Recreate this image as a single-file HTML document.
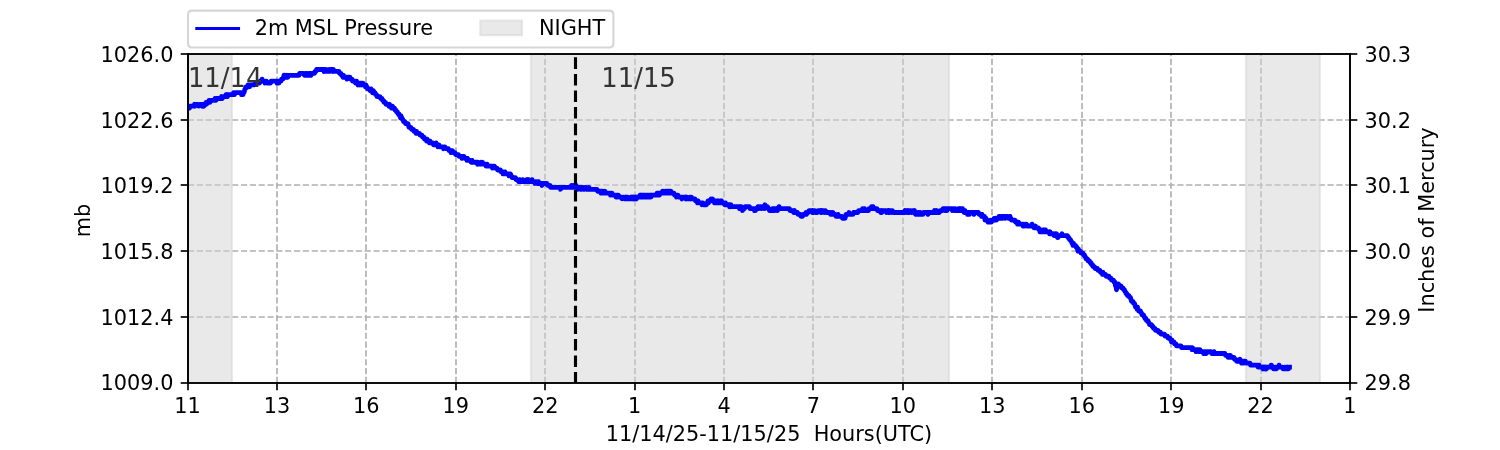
<!DOCTYPE html>
<html><head><meta charset="utf-8"><title>2m MSL Pressure</title>
<style>html,body{margin:0;padding:0;background:#fff;}body{width:1500px;height:450px;overflow:hidden;}svg{display:block;}</style>
</head><body>
<svg width="1500" height="450" viewBox="0 0 720 216" version="1.1">
<defs>
<style type="text/css">*{stroke-linejoin: round; stroke-linecap: butt}</style>
</defs>
<g id="figure_1">
<g id="patch_1">
<path d="M 0 216 L 720 216 L 720 0 L 0 0 z
" style="fill: #ffffff"/>
</g>
<g id="axes_1">
<g id="patch_2">
<path d="M 90.24 183.84 L 648 183.84 L 648 25.92 L 90.24 25.92 z
" style="fill: #ffffff"/>
</g>
<g id="matplotlib.axis_1">
<g id="xtick_1">
<g id="line2d_1">
<path d="M 90.24 183.84 L 90.24 25.92 " clip-path="url(#p7437178275)" style="fill: none; stroke-dasharray: 2.96,1.28; stroke-dashoffset: 0; stroke: #b0b0b0; stroke-width: 0.8"/>
</g>
<g id="line2d_2">
<g>
<path d="M 0 0 L 0 3.5" transform="translate(90.24 183.84)" style="stroke: #000000; stroke-width: 0.8"/>
</g>
</g>
<g id="text_1">
<text style="font-size: 10px; font-family: 'DejaVu Sans', 'Bitstream Vera Sans', 'Computer Modern Sans Serif', 'Lucida Grande', 'Verdana', 'Geneva', 'Lucid', 'Arial', 'Helvetica', 'Avant Garde', sans-serif; text-anchor: middle" x="90.24" y="198.438438" transform="translate(-0.240 0.000)">11</text>
</g>
</g>
<g id="xtick_2">
<g id="line2d_3">
<path d="M 132.96 183.84 L 132.96 25.92 " clip-path="url(#p7437178275)" style="fill: none; stroke-dasharray: 2.96,1.28; stroke-dashoffset: 0; stroke: #b0b0b0; stroke-width: 0.8"/>
</g>
<g id="line2d_4">
<g>
<path d="M 0 0 L 0 3.5" transform="translate(132.96 183.84)" style="stroke: #000000; stroke-width: 0.8"/>
</g>
</g>
<g id="text_2">
<text style="font-size: 10px; font-family: 'DejaVu Sans', 'Bitstream Vera Sans', 'Computer Modern Sans Serif', 'Lucida Grande', 'Verdana', 'Geneva', 'Lucid', 'Arial', 'Helvetica', 'Avant Garde', sans-serif; text-anchor: middle" x="132.96" y="198.438438" transform="translate(-0.037 0.000)">13</text>
</g>
</g>
<g id="xtick_3">
<g id="line2d_5">
<path d="M 175.68 183.84 L 175.68 25.92 " clip-path="url(#p7437178275)" style="fill: none; stroke-dasharray: 2.96,1.28; stroke-dashoffset: 0; stroke: #b0b0b0; stroke-width: 0.8"/>
</g>
<g id="line2d_6">
<g>
<path d="M 0 0 L 0 3.5" transform="translate(175.68 183.84)" style="stroke: #000000; stroke-width: 0.8"/>
</g>
</g>
<g id="text_3">
<text style="font-size: 10px; font-family: 'DejaVu Sans', 'Bitstream Vera Sans', 'Computer Modern Sans Serif', 'Lucida Grande', 'Verdana', 'Geneva', 'Lucid', 'Arial', 'Helvetica', 'Avant Garde', sans-serif; text-anchor: middle" x="175.68" y="198.438438" transform="translate(0.166 0.000)">16</text>
</g>
</g>
<g id="xtick_4">
<g id="line2d_7">
<path d="M 218.88 183.84 L 218.88 25.92 " clip-path="url(#p7437178275)" style="fill: none; stroke-dasharray: 2.96,1.28; stroke-dashoffset: 0; stroke: #b0b0b0; stroke-width: 0.8"/>
</g>
<g id="line2d_8">
<g>
<path d="M 0 0 L 0 3.5" transform="translate(218.88 183.84)" style="stroke: #000000; stroke-width: 0.8"/>
</g>
</g>
<g id="text_4">
<text style="font-size: 10px; font-family: 'DejaVu Sans', 'Bitstream Vera Sans', 'Computer Modern Sans Serif', 'Lucida Grande', 'Verdana', 'Geneva', 'Lucid', 'Arial', 'Helvetica', 'Avant Garde', sans-serif; text-anchor: middle" x="218.88" y="198.438438" transform="translate(-0.111 0.000)">19</text>
</g>
</g>
<g id="xtick_5">
<g id="line2d_9">
<path d="M 261.6 183.84 L 261.6 25.92 " clip-path="url(#p7437178275)" style="fill: none; stroke-dasharray: 2.96,1.28; stroke-dashoffset: 0; stroke: #b0b0b0; stroke-width: 0.8"/>
</g>
<g id="line2d_10">
<g>
<path d="M 0 0 L 0 3.5" transform="translate(261.6 183.84)" style="stroke: #000000; stroke-width: 0.8"/>
</g>
</g>
<g id="text_5">
<text style="font-size: 10px; font-family: 'DejaVu Sans', 'Bitstream Vera Sans', 'Computer Modern Sans Serif', 'Lucida Grande', 'Verdana', 'Geneva', 'Lucid', 'Arial', 'Helvetica', 'Avant Garde', sans-serif; text-anchor: middle" x="261.6" y="198.438438" transform="translate(0.092 0.000)">22</text>
</g>
</g>
<g id="xtick_6">
<g id="line2d_11">
<path d="M 304.8 183.84 L 304.8 25.92 " clip-path="url(#p7437178275)" style="fill: none; stroke-dasharray: 2.96,1.28; stroke-dashoffset: 0; stroke: #b0b0b0; stroke-width: 0.8"/>
</g>
<g id="line2d_12">
<g>
<path d="M 0 0 L 0 3.5" transform="translate(304.8 183.84)" style="stroke: #000000; stroke-width: 0.8"/>
</g>
</g>
<g id="text_6">
<text style="font-size: 10px; font-family: 'DejaVu Sans', 'Bitstream Vera Sans', 'Computer Modern Sans Serif', 'Lucida Grande', 'Verdana', 'Geneva', 'Lucid', 'Arial', 'Helvetica', 'Avant Garde', sans-serif; text-anchor: middle" x="304.8" y="198.438438" transform="translate(-0.185 0.000)">1</text>
</g>
</g>
<g id="xtick_7">
<g id="line2d_13">
<path d="M 347.52 183.84 L 347.52 25.92 " clip-path="url(#p7437178275)" style="fill: none; stroke-dasharray: 2.96,1.28; stroke-dashoffset: 0; stroke: #b0b0b0; stroke-width: 0.8"/>
</g>
<g id="line2d_14">
<g>
<path d="M 0 0 L 0 3.5" transform="translate(347.52 183.84)" style="stroke: #000000; stroke-width: 0.8"/>
</g>
</g>
<g id="text_7">
<text style="font-size: 10px; font-family: 'DejaVu Sans', 'Bitstream Vera Sans', 'Computer Modern Sans Serif', 'Lucida Grande', 'Verdana', 'Geneva', 'Lucid', 'Arial', 'Helvetica', 'Avant Garde', sans-serif; text-anchor: middle" x="347.52" y="198.438438" transform="translate(0.018 0.000)">4</text>
</g>
</g>
<g id="xtick_8">
<g id="line2d_15">
<path d="M 390.24 183.84 L 390.24 25.92 " clip-path="url(#p7437178275)" style="fill: none; stroke-dasharray: 2.96,1.28; stroke-dashoffset: 0; stroke: #b0b0b0; stroke-width: 0.8"/>
</g>
<g id="line2d_16">
<g>
<path d="M 0 0 L 0 3.5" transform="translate(390.24 183.84)" style="stroke: #000000; stroke-width: 0.8"/>
</g>
</g>
<g id="text_8">
<text style="font-size: 10px; font-family: 'DejaVu Sans', 'Bitstream Vera Sans', 'Computer Modern Sans Serif', 'Lucida Grande', 'Verdana', 'Geneva', 'Lucid', 'Arial', 'Helvetica', 'Avant Garde', sans-serif; text-anchor: middle" x="390.24" y="198.438438" transform="translate(0.222 0.000)">7</text>
</g>
</g>
<g id="xtick_9">
<g id="line2d_17">
<path d="M 433.44 183.84 L 433.44 25.92 " clip-path="url(#p7437178275)" style="fill: none; stroke-dasharray: 2.96,1.28; stroke-dashoffset: 0; stroke: #b0b0b0; stroke-width: 0.8"/>
</g>
<g id="line2d_18">
<g>
<path d="M 0 0 L 0 3.5" transform="translate(433.44 183.84)" style="stroke: #000000; stroke-width: 0.8"/>
</g>
</g>
<g id="text_9">
<text style="font-size: 10px; font-family: 'DejaVu Sans', 'Bitstream Vera Sans', 'Computer Modern Sans Serif', 'Lucida Grande', 'Verdana', 'Geneva', 'Lucid', 'Arial', 'Helvetica', 'Avant Garde', sans-serif; text-anchor: middle" x="433.44" y="198.438438" transform="translate(-0.055 0.000)">10</text>
</g>
</g>
<g id="xtick_10">
<g id="line2d_19">
<path d="M 476.16 183.84 L 476.16 25.92 " clip-path="url(#p7437178275)" style="fill: none; stroke-dasharray: 2.96,1.28; stroke-dashoffset: 0; stroke: #b0b0b0; stroke-width: 0.8"/>
</g>
<g id="line2d_20">
<g>
<path d="M 0 0 L 0 3.5" transform="translate(476.16 183.84)" style="stroke: #000000; stroke-width: 0.8"/>
</g>
</g>
<g id="text_10">
<text style="font-size: 10px; font-family: 'DejaVu Sans', 'Bitstream Vera Sans', 'Computer Modern Sans Serif', 'Lucida Grande', 'Verdana', 'Geneva', 'Lucid', 'Arial', 'Helvetica', 'Avant Garde', sans-serif; text-anchor: middle" x="476.16" y="198.438438" transform="translate(0.148 0.000)">13</text>
</g>
</g>
<g id="xtick_11">
<g id="line2d_21">
<path d="M 519.36 183.84 L 519.36 25.92 " clip-path="url(#p7437178275)" style="fill: none; stroke-dasharray: 2.96,1.28; stroke-dashoffset: 0; stroke: #b0b0b0; stroke-width: 0.8"/>
</g>
<g id="line2d_22">
<g>
<path d="M 0 0 L 0 3.5" transform="translate(519.36 183.84)" style="stroke: #000000; stroke-width: 0.8"/>
</g>
</g>
<g id="text_11">
<text style="font-size: 10px; font-family: 'DejaVu Sans', 'Bitstream Vera Sans', 'Computer Modern Sans Serif', 'Lucida Grande', 'Verdana', 'Geneva', 'Lucid', 'Arial', 'Helvetica', 'Avant Garde', sans-serif; text-anchor: middle" x="519.36" y="198.438438" transform="translate(-0.129 0.000)">16</text>
</g>
</g>
<g id="xtick_12">
<g id="line2d_23">
<path d="M 562.08 183.84 L 562.08 25.92 " clip-path="url(#p7437178275)" style="fill: none; stroke-dasharray: 2.96,1.28; stroke-dashoffset: 0; stroke: #b0b0b0; stroke-width: 0.8"/>
</g>
<g id="line2d_24">
<g>
<path d="M 0 0 L 0 3.5" transform="translate(562.08 183.84)" style="stroke: #000000; stroke-width: 0.8"/>
</g>
</g>
<g id="text_12">
<text style="font-size: 10px; font-family: 'DejaVu Sans', 'Bitstream Vera Sans', 'Computer Modern Sans Serif', 'Lucida Grande', 'Verdana', 'Geneva', 'Lucid', 'Arial', 'Helvetica', 'Avant Garde', sans-serif; text-anchor: middle" x="562.08" y="198.438438" transform="translate(0.074 0.000)">19</text>
</g>
</g>
<g id="xtick_13">
<g id="line2d_25">
<path d="M 605.28 183.84 L 605.28 25.92 " clip-path="url(#p7437178275)" style="fill: none; stroke-dasharray: 2.96,1.28; stroke-dashoffset: 0; stroke: #b0b0b0; stroke-width: 0.8"/>
</g>
<g id="line2d_26">
<g>
<path d="M 0 0 L 0 3.5" transform="translate(605.28 183.84)" style="stroke: #000000; stroke-width: 0.8"/>
</g>
</g>
<g id="text_13">
<text style="font-size: 10px; font-family: 'DejaVu Sans', 'Bitstream Vera Sans', 'Computer Modern Sans Serif', 'Lucida Grande', 'Verdana', 'Geneva', 'Lucid', 'Arial', 'Helvetica', 'Avant Garde', sans-serif; text-anchor: middle" x="605.28" y="198.438438" transform="translate(-0.203 0.000)">22</text>
</g>
</g>
<g id="xtick_14">
<g id="line2d_27">
<path d="M 648 183.84 L 648 25.92 " clip-path="url(#p7437178275)" style="fill: none; stroke-dasharray: 2.96,1.28; stroke-dashoffset: 0; stroke: #b0b0b0; stroke-width: 0.8"/>
</g>
<g id="line2d_28">
<g>
<path d="M 0 0 L 0 3.5" transform="translate(648 183.84)" style="stroke: #000000; stroke-width: 0.8"/>
</g>
</g>
<g id="text_14">
<text style="font-size: 10px; font-family: 'DejaVu Sans', 'Bitstream Vera Sans', 'Computer Modern Sans Serif', 'Lucida Grande', 'Verdana', 'Geneva', 'Lucid', 'Arial', 'Helvetica', 'Avant Garde', sans-serif; text-anchor: middle" x="648" y="198.438438" transform="translate(0.000 0.000)">1</text>
</g>
</g>
<g id="xlabel">
<text style="font-size: 10px; font-family: 'DejaVu Sans', 'Bitstream Vera Sans', 'Computer Modern Sans Serif', 'Lucida Grande', 'Verdana', 'Geneva', 'Lucid', 'Arial', 'Helvetica', 'Avant Garde', sans-serif; text-anchor: middle" x="369.12" y="212.116563" transform="translate(0.000 -0.480)" xml:space="preserve">11/14/25-11/15/25  Hours(UTC)</text>
</g>
</g>
<g id="matplotlib.axis_2">
<g id="ytick_1">
<g id="line2d_29">
<path d="M 90.24 183.84 L 648 183.84 " clip-path="url(#p7437178275)" style="fill: none; stroke-dasharray: 2.96,1.28; stroke-dashoffset: 0; stroke: #b0b0b0; stroke-width: 0.8"/>
</g>
<g id="line2d_30">
<g>
<path d="M 0 0 L -3.5 0" transform="translate(90.24 183.84)" style="stroke: #000000; stroke-width: 0.8"/>
</g>
</g>
<g id="text_15">
<text style="font-size: 10px; font-family: 'DejaVu Sans', 'Bitstream Vera Sans', 'Computer Modern Sans Serif', 'Lucida Grande', 'Verdana', 'Geneva', 'Lucid', 'Arial', 'Helvetica', 'Avant Garde', sans-serif; text-anchor: end" x="83.24" y="187.639219" transform="translate(0.000 -0.240)">1009.0</text>
</g>
</g>
<g id="ytick_2">
<g id="line2d_31">
<path d="M 90.24 152.16 L 648 152.16 " clip-path="url(#p7437178275)" style="fill: none; stroke-dasharray: 2.96,1.28; stroke-dashoffset: 0; stroke: #b0b0b0; stroke-width: 0.8"/>
</g>
<g id="line2d_32">
<g>
<path d="M 0 0 L -3.5 0" transform="translate(90.24 152.16)" style="stroke: #000000; stroke-width: 0.8"/>
</g>
</g>
<g id="text_16">
<text style="font-size: 10px; font-family: 'DejaVu Sans', 'Bitstream Vera Sans', 'Computer Modern Sans Serif', 'Lucida Grande', 'Verdana', 'Geneva', 'Lucid', 'Arial', 'Helvetica', 'Avant Garde', sans-serif; text-anchor: end" x="83.24" y="155.959219" transform="translate(0.000 -0.096)">1012.4</text>
</g>
</g>
<g id="ytick_3">
<g id="line2d_33">
<path d="M 90.24 120.48 L 648 120.48 " clip-path="url(#p7437178275)" style="fill: none; stroke-dasharray: 2.96,1.28; stroke-dashoffset: 0; stroke: #b0b0b0; stroke-width: 0.8"/>
</g>
<g id="line2d_34">
<g>
<path d="M 0 0 L -3.5 0" transform="translate(90.24 120.48)" style="stroke: #000000; stroke-width: 0.8"/>
</g>
</g>
<g id="text_17">
<text style="font-size: 10px; font-family: 'DejaVu Sans', 'Bitstream Vera Sans', 'Computer Modern Sans Serif', 'Lucida Grande', 'Verdana', 'Geneva', 'Lucid', 'Arial', 'Helvetica', 'Avant Garde', sans-serif; text-anchor: end" x="83.24" y="124.279219" transform="translate(0.000 0.048)">1015.8</text>
</g>
</g>
<g id="ytick_4">
<g id="line2d_35">
<path d="M 90.24 88.8 L 648 88.8 " clip-path="url(#p7437178275)" style="fill: none; stroke-dasharray: 2.96,1.28; stroke-dashoffset: 0; stroke: #b0b0b0; stroke-width: 0.8"/>
</g>
<g id="line2d_36">
<g>
<path d="M 0 0 L -3.5 0" transform="translate(90.24 88.8)" style="stroke: #000000; stroke-width: 0.8"/>
</g>
</g>
<g id="text_18">
<text style="font-size: 10px; font-family: 'DejaVu Sans', 'Bitstream Vera Sans', 'Computer Modern Sans Serif', 'Lucida Grande', 'Verdana', 'Geneva', 'Lucid', 'Arial', 'Helvetica', 'Avant Garde', sans-serif; text-anchor: end" x="83.24" y="92.599219" transform="translate(0.000 0.192)">1019.2</text>
</g>
</g>
<g id="ytick_5">
<g id="line2d_37">
<path d="M 90.24 57.6 L 648 57.6 " clip-path="url(#p7437178275)" style="fill: none; stroke-dasharray: 2.96,1.28; stroke-dashoffset: 0; stroke: #b0b0b0; stroke-width: 0.8"/>
</g>
<g id="line2d_38">
<g>
<path d="M 0 0 L -3.5 0" transform="translate(90.24 57.6)" style="stroke: #000000; stroke-width: 0.8"/>
</g>
</g>
<g id="text_19">
<text style="font-size: 10px; font-family: 'DejaVu Sans', 'Bitstream Vera Sans', 'Computer Modern Sans Serif', 'Lucida Grande', 'Verdana', 'Geneva', 'Lucid', 'Arial', 'Helvetica', 'Avant Garde', sans-serif; text-anchor: end" x="83.24" y="61.399219" transform="translate(0.000 -0.144)">1022.6</text>
</g>
</g>
<g id="ytick_6">
<g id="line2d_39">
<path d="M 90.24 25.92 L 648 25.92 " clip-path="url(#p7437178275)" style="fill: none; stroke-dasharray: 2.96,1.28; stroke-dashoffset: 0; stroke: #b0b0b0; stroke-width: 0.8"/>
</g>
<g id="line2d_40">
<g>
<path d="M 0 0 L -3.5 0" transform="translate(90.24 25.92)" style="stroke: #000000; stroke-width: 0.8"/>
</g>
</g>
<g id="text_20">
<text style="font-size: 10px; font-family: 'DejaVu Sans', 'Bitstream Vera Sans', 'Computer Modern Sans Serif', 'Lucida Grande', 'Verdana', 'Geneva', 'Lucid', 'Arial', 'Helvetica', 'Avant Garde', sans-serif; text-anchor: end" x="83.24" y="29.719219" transform="translate(0.000 -0.000)">1026.0</text>
</g>
</g>
<g id="text_21">
<text style="font-size: 10px; font-family: 'DejaVu Sans', 'Bitstream Vera Sans', 'Computer Modern Sans Serif', 'Lucida Grande', 'Verdana', 'Geneva', 'Lucid', 'Arial', 'Helvetica', 'Avant Garde', sans-serif; text-anchor: middle" x="42.169687" y="104.88" transform="translate(0.960 0.960) rotate(-90 42.169687 104.88)">mb</text>
</g>
</g>
<g id="patch_3">
<path d="M 89.76 183.84 L 111.36 183.84 L 111.36 25.92 L 89.76 25.92 z
" clip-path="url(#p7437178275)" style="fill: #d3d3d3; fill-opacity: 0.5; stroke: #d3d3d3; stroke-opacity: 0.5; stroke-linejoin: miter"/>
</g>
<g id="patch_4">
<path d="M 254.88 183.84 L 455.52 183.84 L 455.52 25.92 L 254.88 25.92 z
" clip-path="url(#p7437178275)" style="fill: #d3d3d3; fill-opacity: 0.5; stroke: #d3d3d3; stroke-opacity: 0.5; stroke-linejoin: miter"/>
</g>
<g id="patch_5">
<path d="M 598.08 183.84 L 633.6 183.84 L 633.6 25.92 L 598.08 25.92 z
" clip-path="url(#p7437178275)" style="fill: #d3d3d3; fill-opacity: 0.5; stroke: #d3d3d3; stroke-opacity: 0.5; stroke-linejoin: miter"/>
</g>
<g id="line2d_41"/>
<g id="patch_6">
<path d="M 90.24 183.84 L 90.24 25.92 " style="fill: none; stroke: #000000; stroke-width: 0.8; stroke-linejoin: miter; stroke-linecap: square"/>
</g>
<g id="patch_7">
<path d="M 648 183.84 L 648 25.92 " style="fill: none; stroke: #000000; stroke-width: 0.8; stroke-linejoin: miter; stroke-linecap: square"/>
</g>
<g id="patch_8">
<path d="M 90.24 183.84 L 648 183.84 " style="fill: none; stroke: #000000; stroke-width: 0.8; stroke-linejoin: miter; stroke-linecap: square"/>
</g>
<g id="patch_9">
<path d="M 90.24 25.92 L 648 25.92 " style="fill: none; stroke: #000000; stroke-width: 0.8; stroke-linejoin: miter; stroke-linecap: square"/>
</g>
<g id="dataline">
<path d="M 90 51.91488 L 90.48 51.91488 L 90.72 50.98752 L 90.96 51.91488 L 91.2 50.98752 L 93.12 50.98752 L 93.36 50.06016 L 93.6 50.98752 L 93.84 50.06016 L 95.04 50.06016 L 95.28 50.98752 L 95.52 50.98752 L 95.76 50.06016 L 96.96 50.06016 L 97.2 50.98752 L 97.44 50.06016 L 97.68 50.06016 L 97.92 50.98752 L 98.16 50.06016 L 98.64 50.06016 L 98.88 49.1328 L 99.12 50.06016 L 99.36 49.1328 L 100.08 49.1328 L 100.32 48.20544 L 100.56 49.1328 L 100.8 49.1328 L 101.04 48.20544 L 102.96 48.20544 L 103.2 47.27808 L 103.44 48.20544 L 103.68 48.20544 L 103.92 47.27808 L 106.08 47.27808 L 106.32 46.35072 L 106.56 47.27808 L 106.8 47.27808 L 107.04 46.35072 L 108.24 46.35072 L 108.48 45.42336 L 108.72 46.35072 L 108.96 45.42336 L 109.2 46.35072 L 109.44 45.42336 L 111.84 45.42336 L 112.08 44.496 L 112.32 44.496 L 112.56 45.42336 L 112.8 44.496 L 115.68 44.496 L 115.92 45.42336 L 116.16 44.496 L 116.4 44.496 L 116.64 45.42336 L 116.88 44.496 L 117.12 44.496 L 117.6 42.64128 L 117.84 42.64128 L 118.08 41.71392 L 118.8 41.71392 L 119.04 40.78656 L 119.28 40.78656 L 119.52 41.71392 L 119.76 41.71392 L 120 40.78656 L 122.16 40.78656 L 122.4 39.8592 L 124.56 39.8592 L 124.8 38.93184 L 125.52 38.93184 L 125.76 38.00448 L 126 38.93184 L 126.96 38.93184 L 127.2 39.8592 L 127.44 38.93184 L 127.92 38.93184 L 128.16 39.8592 L 129.84 39.8592 L 130.08 38.93184 L 132.72 38.93184 L 132.96 39.8592 L 133.2 38.93184 L 133.68 38.93184 L 133.92 39.8592 L 134.16 38.93184 L 134.88 38.93184 L 135.12 38.00448 L 135.84 38.00448 L 136.32 36.14976 L 136.56 37.07712 L 136.8 36.14976 L 137.04 37.07712 L 137.52 37.07712 L 137.76 36.14976 L 138 37.07712 L 138.24 37.07712 L 138.48 36.14976 L 143.52 36.14976 L 143.76 35.2224 L 145.92 35.2224 L 146.16 36.14976 L 146.4 36.14976 L 146.64 35.2224 L 146.88 36.14976 L 147.12 35.2224 L 147.36 35.2224 L 147.6 36.14976 L 148.08 36.14976 L 148.32 35.2224 L 148.56 36.14976 L 148.8 35.2224 L 149.04 35.2224 L 149.28 36.14976 L 149.52 35.2224 L 150.96 35.2224 L 151.2 34.29504 L 151.68 34.29504 L 151.92 33.36768 L 155.28 33.36768 L 155.52 34.29504 L 155.76 33.36768 L 156 33.36768 L 156.24 34.29504 L 156.48 34.29504 L 156.72 33.36768 L 156.96 34.29504 L 157.92 34.29504 L 158.16 33.36768 L 158.4 34.29504 L 158.64 34.29504 L 158.88 33.36768 L 159.6 33.36768 L 159.84 34.29504 L 160.08 33.36768 L 160.32 34.29504 L 162.72 34.29504 L 162.96 35.2224 L 163.68 35.2224 L 163.92 36.14976 L 164.4 36.14976 L 164.64 37.07712 L 164.88 36.14976 L 165.12 37.07712 L 166.32 37.07712 L 166.56 38.00448 L 166.8 37.07712 L 168 37.07712 L 168.24 38.00448 L 168.96 38.00448 L 169.2 38.93184 L 170.4 38.93184 L 170.64 39.8592 L 170.88 39.8592 L 171.12 38.93184 L 171.36 39.8592 L 171.6 39.8592 L 171.84 40.78656 L 172.08 39.8592 L 172.56 39.8592 L 172.8 40.78656 L 173.04 39.8592 L 173.52 39.8592 L 173.76 40.78656 L 174 39.8592 L 174.24 39.8592 L 174.48 40.78656 L 175.2 40.78656 L 175.44 41.71392 L 175.68 40.78656 L 175.92 41.71392 L 176.16 41.71392 L 176.4 42.64128 L 177.36 42.64128 L 177.6 43.56864 L 177.84 43.56864 L 178.08 42.64128 L 178.32 43.56864 L 178.56 43.56864 L 178.8 44.496 L 179.04 43.56864 L 179.28 43.56864 L 179.52 44.496 L 180 44.496 L 180.24 45.42336 L 180.72 45.42336 L 180.96 46.35072 L 182.4 46.35072 L 182.64 47.27808 L 183.36 47.27808 L 183.6 48.20544 L 184.08 48.20544 L 184.32 49.1328 L 185.04 49.1328 L 185.28 50.06016 L 186.48 50.06016 L 186.72 50.98752 L 186.96 50.06016 L 187.2 50.98752 L 187.68 50.98752 L 187.92 51.91488 L 188.16 50.98752 L 188.4 50.98752 L 188.64 51.91488 L 189.36 51.91488 L 189.6 52.84224 L 190.08 52.84224 L 190.32 53.7696 L 190.8 53.7696 L 191.04 54.69696 L 191.52 54.69696 L 191.76 55.62432 L 192 55.62432 L 192.24 56.55168 L 192.48 55.62432 L 192.72 56.55168 L 192.96 56.55168 L 193.2 57.47904 L 193.44 57.47904 L 193.68 58.4064 L 194.4 58.4064 L 194.64 59.33376 L 195.84 59.33376 L 196.32 61.18848 L 197.28 61.18848 L 197.52 62.11584 L 198.48 62.11584 L 198.72 63.0432 L 199.44 63.0432 L 199.68 63.97056 L 199.92 63.0432 L 200.16 63.97056 L 201.36 63.97056 L 201.6 64.89792 L 202.56 64.89792 L 202.8 65.82528 L 203.52 65.82528 L 203.76 66.75264 L 204.48 66.75264 L 204.72 67.68 L 204.96 66.75264 L 205.2 67.68 L 205.92 67.68 L 206.16 68.60736 L 206.4 67.68 L 206.64 68.60736 L 207.84 68.60736 L 208.08 69.53472 L 209.04 69.53472 L 209.28 68.60736 L 209.52 69.53472 L 210 69.53472 L 210.24 70.46208 L 210.48 69.53472 L 210.72 69.53472 L 210.96 70.46208 L 212.64 70.46208 L 212.88 71.38944 L 213.12 70.46208 L 213.6 70.46208 L 213.84 71.38944 L 215.28 71.38944 L 215.52 72.3168 L 216.24 72.3168 L 216.48 73.24416 L 216.72 72.3168 L 217.2 72.3168 L 217.44 73.24416 L 218.4 73.24416 L 218.64 74.17152 L 220.08 74.17152 L 220.32 75.09888 L 221.52 75.09888 L 221.76 76.02624 L 222 75.09888 L 222.72 75.09888 L 222.96 76.02624 L 223.92 76.02624 L 224.16 76.9536 L 224.4 76.02624 L 224.64 76.9536 L 225.84 76.9536 L 226.08 77.88096 L 226.32 77.88096 L 226.56 76.9536 L 226.8 77.88096 L 228.96 77.88096 L 229.2 78.80832 L 229.44 77.88096 L 229.68 78.80832 L 230.64 78.80832 L 230.88 77.88096 L 231.12 78.80832 L 231.36 78.80832 L 231.6 77.88096 L 231.84 78.80832 L 233.04 78.80832 L 233.28 79.73568 L 233.52 79.73568 L 233.76 78.80832 L 234 79.73568 L 236.16 79.73568 L 236.4 80.66304 L 236.64 79.73568 L 237.36 79.73568 L 237.6 80.66304 L 238.56 80.66304 L 238.8 81.5904 L 240.24 81.5904 L 240.48 82.51776 L 241.2 82.51776 L 241.44 83.44512 L 241.68 82.51776 L 241.92 82.51776 L 242.16 83.44512 L 242.4 82.51776 L 242.64 83.44512 L 244.08 83.44512 L 244.32 84.37248 L 244.56 83.44512 L 245.04 83.44512 L 245.28 84.37248 L 245.52 84.37248 L 245.76 85.29984 L 247.44 85.29984 L 247.68 86.2272 L 248.64 86.2272 L 248.88 87.15456 L 249.12 87.15456 L 249.36 86.2272 L 249.6 87.15456 L 250.56 87.15456 L 250.8 86.2272 L 251.04 87.15456 L 252.48 87.15456 L 252.72 86.2272 L 252.96 87.15456 L 253.2 86.2272 L 253.44 87.15456 L 253.68 86.2272 L 253.92 87.15456 L 255.12 87.15456 L 255.36 86.2272 L 255.6 87.15456 L 256.56 87.15456 L 256.8 88.08192 L 257.04 87.15456 L 257.52 87.15456 L 257.76 88.08192 L 258.24 88.08192 L 258.48 87.15456 L 258.72 88.08192 L 259.92 88.08192 L 260.16 89.00928 L 260.4 88.08192 L 262.56 88.08192 L 262.8 89.00928 L 264 89.00928 L 264.24 89.93664 L 268.8 89.93664 L 269.04 90.864 L 269.28 89.93664 L 274.08 89.93664 L 274.32 89.00928 L 274.56 89.00928 L 274.8 89.93664 L 275.28 89.93664 L 275.52 89.00928 L 275.76 89.93664 L 276 89.00928 L 276.24 89.93664 L 276.48 89.00928 L 276.72 89.93664 L 277.2 89.93664 L 277.44 90.864 L 277.68 89.93664 L 278.64 89.93664 L 278.88 90.864 L 279.12 89.93664 L 279.36 90.864 L 279.6 89.93664 L 279.84 89.93664 L 280.08 90.864 L 280.56 90.864 L 280.8 89.93664 L 281.28 89.93664 L 281.52 90.864 L 282.24 90.864 L 282.48 89.93664 L 282.72 89.93664 L 282.96 90.864 L 286.56 90.864 L 286.8 91.79136 L 288.24 91.79136 L 288.48 92.71872 L 288.72 91.79136 L 288.96 91.79136 L 289.2 92.71872 L 289.44 91.79136 L 289.68 92.71872 L 290.16 92.71872 L 290.4 91.79136 L 290.64 92.71872 L 292.8 92.71872 L 293.04 93.64608 L 293.28 92.71872 L 293.76 92.71872 L 294 93.64608 L 295.44 93.64608 L 295.68 94.57344 L 295.92 94.57344 L 296.16 93.64608 L 296.4 94.57344 L 296.64 93.64608 L 296.88 93.64608 L 297.12 94.57344 L 298.32 94.57344 L 298.56 95.5008 L 298.8 95.5008 L 299.04 94.57344 L 299.52 94.57344 L 299.76 95.5008 L 300.24 95.5008 L 300.48 94.57344 L 300.72 95.5008 L 300.96 95.5008 L 301.2 94.57344 L 301.44 94.57344 L 301.68 95.5008 L 302.88 95.5008 L 303.12 94.57344 L 303.36 95.5008 L 303.6 95.5008 L 303.84 94.57344 L 304.08 95.5008 L 304.32 94.57344 L 304.56 95.5008 L 305.04 95.5008 L 305.28 94.57344 L 305.52 95.5008 L 305.76 94.57344 L 306.96 94.57344 L 307.2 93.64608 L 307.44 94.57344 L 307.68 93.64608 L 307.92 94.57344 L 308.16 94.57344 L 308.4 93.64608 L 308.64 94.57344 L 308.88 93.64608 L 309.36 93.64608 L 309.6 94.57344 L 309.84 93.64608 L 310.32 93.64608 L 310.56 94.57344 L 310.8 93.64608 L 311.04 93.64608 L 311.28 94.57344 L 311.52 93.64608 L 311.76 93.64608 L 312 94.57344 L 312.24 93.64608 L 312.48 94.57344 L 312.72 93.64608 L 315.12 93.64608 L 315.36 92.71872 L 315.6 93.64608 L 315.84 93.64608 L 316.08 92.71872 L 316.32 93.64608 L 316.56 93.64608 L 316.8 92.71872 L 317.76 92.71872 L 318 91.79136 L 318.24 92.71872 L 318.48 92.71872 L 318.72 91.79136 L 318.96 92.71872 L 319.2 92.71872 L 319.44 91.79136 L 319.68 92.71872 L 319.92 91.79136 L 320.16 92.71872 L 320.4 91.79136 L 321.12 91.79136 L 321.36 92.71872 L 321.6 91.79136 L 321.84 92.71872 L 322.08 91.79136 L 322.32 92.71872 L 323.52 92.71872 L 323.76 93.64608 L 324.48 93.64608 L 324.72 94.57344 L 324.96 93.64608 L 325.44 93.64608 L 325.68 94.57344 L 327.12 94.57344 L 327.36 95.5008 L 327.6 94.57344 L 329.04 94.57344 L 329.28 95.5008 L 329.52 94.57344 L 329.76 95.5008 L 330.72 95.5008 L 330.96 94.57344 L 331.2 94.57344 L 331.44 95.5008 L 331.68 94.57344 L 331.92 94.57344 L 332.16 95.5008 L 333.6 95.5008 L 333.84 96.42816 L 334.56 96.42816 L 334.8 97.35552 L 335.04 96.42816 L 335.28 97.35552 L 336.72 97.35552 L 336.96 98.28288 L 337.2 97.35552 L 337.44 97.35552 L 337.68 98.28288 L 339.12 98.28288 L 339.36 97.35552 L 339.6 97.35552 L 339.84 96.42816 L 340.08 97.35552 L 340.32 96.42816 L 341.04 96.42816 L 341.28 95.5008 L 341.52 96.42816 L 341.76 95.5008 L 342 95.5008 L 342.24 96.42816 L 342.72 96.42816 L 342.96 97.35552 L 343.2 96.42816 L 343.44 96.42816 L 343.68 97.35552 L 343.92 96.42816 L 344.16 97.35552 L 344.4 96.42816 L 344.64 97.35552 L 344.88 96.42816 L 345.12 96.42816 L 345.36 97.35552 L 345.6 97.35552 L 345.84 96.42816 L 346.08 97.35552 L 346.32 96.42816 L 346.56 97.35552 L 347.52 97.35552 L 347.76 98.28288 L 348 98.28288 L 348.24 97.35552 L 348.48 98.28288 L 349.92 98.28288 L 350.16 99.21024 L 350.4 98.28288 L 350.64 99.21024 L 350.88 98.28288 L 351.12 99.21024 L 354.72 99.21024 L 354.96 100.1376 L 355.2 99.21024 L 355.44 100.1376 L 355.68 99.21024 L 355.92 100.1376 L 356.16 100.1376 L 356.4 101.06496 L 356.64 100.1376 L 357.36 100.1376 L 357.6 99.21024 L 359.76 99.21024 L 360 100.1376 L 361.92 100.1376 L 362.16 101.06496 L 362.4 100.1376 L 362.64 101.06496 L 362.88 100.1376 L 363.6 100.1376 L 363.84 99.21024 L 364.08 100.1376 L 364.32 100.1376 L 364.56 99.21024 L 365.28 99.21024 L 365.52 100.1376 L 365.76 99.21024 L 366.72 99.21024 L 366.96 100.1376 L 367.2 98.28288 L 367.44 99.21024 L 368.4 99.21024 L 368.64 100.1376 L 369.12 100.1376 L 369.36 101.06496 L 370.56 101.06496 L 370.8 100.1376 L 371.04 101.06496 L 371.28 100.1376 L 371.52 101.06496 L 372 101.06496 L 372.24 100.1376 L 372.72 100.1376 L 372.96 101.06496 L 373.2 101.06496 L 373.44 100.1376 L 373.68 100.1376 L 373.92 99.21024 L 374.16 100.1376 L 378.96 100.1376 L 379.2 101.06496 L 380.64 101.06496 L 380.88 101.99232 L 381.12 101.99232 L 381.36 101.06496 L 381.6 101.99232 L 382.8 101.99232 L 383.04 102.91968 L 384.24 102.91968 L 384.48 103.84704 L 385.2 103.84704 L 385.44 102.91968 L 386.64 102.91968 L 386.88 101.99232 L 387.12 102.91968 L 387.36 101.99232 L 388.08 101.99232 L 388.32 101.06496 L 389.76 101.06496 L 390 101.99232 L 390.24 101.06496 L 390.48 101.99232 L 390.72 101.99232 L 390.96 101.06496 L 391.2 101.06496 L 391.44 101.99232 L 392.4 101.99232 L 392.64 101.06496 L 393.84 101.06496 L 394.08 101.99232 L 394.32 101.06496 L 394.56 101.99232 L 394.8 101.06496 L 395.52 101.06496 L 395.76 101.99232 L 396 101.06496 L 396.24 101.06496 L 396.48 101.99232 L 398.4 101.99232 L 398.64 102.91968 L 399.12 102.91968 L 399.36 101.99232 L 399.6 102.91968 L 399.84 101.99232 L 400.08 102.91968 L 401.04 102.91968 L 401.28 103.84704 L 402 103.84704 L 402.24 102.91968 L 402.48 103.84704 L 404.16 103.84704 L 404.4 104.7744 L 405.12 104.7744 L 405.36 103.84704 L 405.6 104.7744 L 406.08 102.91968 L 407.28 102.91968 L 407.52 101.99232 L 407.76 102.91968 L 409.44 102.91968 L 409.68 101.99232 L 411.84 101.99232 L 412.08 101.06496 L 413.76 101.06496 L 414 100.1376 L 414.24 101.06496 L 414.72 101.06496 L 414.96 100.1376 L 415.2 101.06496 L 416.88 101.06496 L 417.12 100.1376 L 418.08 100.1376 L 418.32 99.21024 L 418.56 100.1376 L 418.8 100.1376 L 419.04 99.21024 L 419.28 100.1376 L 420.96 100.1376 L 421.2 101.06496 L 422.4 101.06496 L 422.64 101.99232 L 422.88 101.99232 L 423.12 101.06496 L 423.36 101.99232 L 423.6 101.06496 L 425.28 101.06496 L 425.52 101.99232 L 425.76 101.06496 L 426.24 101.06496 L 426.48 101.99232 L 426.72 101.06496 L 426.96 101.99232 L 427.2 101.06496 L 427.68 101.06496 L 427.92 101.99232 L 428.16 101.06496 L 428.4 101.06496 L 428.64 101.99232 L 434.16 101.99232 L 434.4 101.06496 L 434.64 101.99232 L 434.88 101.06496 L 435.12 101.06496 L 435.36 101.99232 L 435.6 101.99232 L 435.84 101.06496 L 436.08 101.99232 L 436.56 101.99232 L 436.8 101.06496 L 437.28 101.06496 L 437.52 101.99232 L 437.76 101.99232 L 438 101.06496 L 438.24 101.06496 L 438.48 101.99232 L 438.72 101.99232 L 438.96 101.06496 L 439.44 102.91968 L 440.4 102.91968 L 440.64 101.99232 L 440.88 101.99232 L 441.12 102.91968 L 441.36 101.99232 L 441.6 102.91968 L 441.84 101.99232 L 442.08 102.91968 L 443.04 102.91968 L 443.28 101.99232 L 445.2 101.99232 L 445.44 102.91968 L 445.68 101.99232 L 448.32 101.99232 L 448.56 101.06496 L 448.8 101.99232 L 449.28 101.99232 L 449.52 101.06496 L 449.76 101.99232 L 450.96 101.99232 L 451.2 101.06496 L 452.4 101.06496 L 452.64 100.1376 L 453.6 100.1376 L 453.84 101.06496 L 454.08 100.1376 L 454.32 101.06496 L 454.56 101.06496 L 454.8 100.1376 L 456.96 100.1376 L 457.2 101.06496 L 457.44 100.1376 L 457.68 100.1376 L 457.92 101.06496 L 458.16 101.06496 L 458.4 100.1376 L 458.64 101.06496 L 459.84 101.06496 L 460.08 100.1376 L 460.32 101.06496 L 460.56 100.1376 L 460.8 101.06496 L 461.04 100.1376 L 461.52 100.1376 L 461.76 101.06496 L 462 100.1376 L 462.24 101.06496 L 462.48 101.06496 L 462.72 101.99232 L 462.96 101.99232 L 463.2 101.06496 L 463.44 101.99232 L 464.16 101.99232 L 464.4 102.91968 L 464.64 101.99232 L 465.12 101.99232 L 465.36 102.91968 L 465.6 101.99232 L 467.28 101.99232 L 467.52 102.91968 L 467.76 101.99232 L 469.68 101.99232 L 469.92 102.91968 L 470.88 102.91968 L 471.12 103.84704 L 471.36 102.91968 L 471.6 103.84704 L 472.56 103.84704 L 472.8 105.70176 L 473.04 105.70176 L 473.28 104.7744 L 473.52 105.70176 L 474 105.70176 L 474.24 106.62912 L 474.48 105.70176 L 474.72 106.62912 L 475.2 106.62912 L 475.44 105.70176 L 475.68 106.62912 L 475.92 106.62912 L 476.16 105.70176 L 476.88 105.70176 L 477.12 104.7744 L 477.36 104.7744 L 477.6 105.70176 L 477.84 104.7744 L 478.08 105.70176 L 478.32 105.70176 L 478.56 104.7744 L 479.28 104.7744 L 479.52 103.84704 L 479.76 104.7744 L 480.24 104.7744 L 480.48 103.84704 L 480.72 104.7744 L 480.96 104.7744 L 481.2 103.84704 L 481.44 104.7744 L 481.68 103.84704 L 482.4 103.84704 L 482.64 104.7744 L 482.88 103.84704 L 483.84 103.84704 L 484.08 104.7744 L 484.56 104.7744 L 484.8 103.84704 L 485.04 104.7744 L 485.28 104.7744 L 485.52 105.70176 L 487.2 105.70176 L 487.44 106.62912 L 488.16 106.62912 L 488.4 107.55648 L 488.64 106.62912 L 488.88 106.62912 L 489.12 107.55648 L 490.8 107.55648 L 491.04 108.48384 L 491.28 107.55648 L 491.52 108.48384 L 492 108.48384 L 492.24 107.55648 L 492.72 107.55648 L 492.96 108.48384 L 495.12 108.48384 L 495.36 107.55648 L 495.6 108.48384 L 496.08 108.48384 L 496.32 109.4112 L 496.8 109.4112 L 497.04 108.48384 L 497.28 109.4112 L 498.48 109.4112 L 498.72 110.33856 L 498.96 110.33856 L 499.2 111.26592 L 499.44 110.33856 L 499.68 111.26592 L 500.4 111.26592 L 500.64 110.33856 L 500.88 111.26592 L 501.12 110.33856 L 501.36 111.26592 L 501.6 111.26592 L 501.84 110.33856 L 502.08 111.26592 L 503.52 111.26592 L 503.76 112.19328 L 504 111.26592 L 504.24 112.19328 L 505.68 112.19328 L 505.92 113.12064 L 506.16 113.12064 L 506.4 112.19328 L 506.64 112.19328 L 506.88 113.12064 L 507.12 112.19328 L 507.6 114.048 L 507.84 114.048 L 508.08 113.12064 L 509.52 113.12064 L 509.76 112.19328 L 510 113.12064 L 512.4 113.12064 L 512.64 114.048 L 513.12 114.048 L 513.36 114.97536 L 513.84 114.97536 L 514.08 115.90272 L 514.32 115.90272 L 514.56 116.83008 L 514.8 116.83008 L 515.04 117.75744 L 515.28 116.83008 L 515.52 117.75744 L 516.24 117.75744 L 516.48 118.6848 L 516.96 118.6848 L 517.44 120.53952 L 517.68 119.61216 L 517.92 120.53952 L 518.64 120.53952 L 518.88 121.46688 L 519.84 121.46688 L 520.08 122.39424 L 520.56 122.39424 L 520.8 123.3216 L 521.04 123.3216 L 521.28 124.24896 L 522 124.24896 L 522.24 125.17632 L 522.96 125.17632 L 523.2 126.10368 L 523.68 126.10368 L 523.92 127.03104 L 524.4 127.03104 L 524.64 127.9584 L 525.36 127.9584 L 525.6 128.88576 L 526.8 128.88576 L 527.04 129.81312 L 528 129.81312 L 528.24 130.74048 L 528.96 130.74048 L 529.2 131.66784 L 529.44 130.74048 L 529.68 131.66784 L 530.64 131.66784 L 530.88 132.5952 L 532.32 132.5952 L 532.56 133.52256 L 533.28 133.52256 L 533.52 134.44992 L 534.48 134.44992 L 534.72 135.37728 L 535.2 135.37728 L 535.44 137.232 L 535.68 137.232 L 535.92 139.08672 L 536.64 136.30464 L 536.88 136.30464 L 537.12 137.232 L 538.08 137.232 L 538.32 138.15936 L 539.04 138.15936 L 539.28 139.08672 L 539.76 139.08672 L 540 140.01408 L 540.24 140.01408 L 540.48 140.94144 L 540.96 140.94144 L 541.2 141.8688 L 541.92 141.8688 L 542.16 142.79616 L 542.64 142.79616 L 543.12 144.65088 L 543.84 144.65088 L 544.08 145.57824 L 544.56 145.57824 L 545.04 147.43296 L 545.52 147.43296 L 545.76 148.36032 L 546 147.43296 L 546.48 149.28768 L 547.44 149.28768 L 547.68 150.21504 L 547.92 150.21504 L 548.16 151.1424 L 548.88 151.1424 L 549.12 152.06976 L 549.36 152.06976 L 549.6 152.99712 L 550.08 152.99712 L 550.32 153.92448 L 551.04 153.92448 L 551.28 154.85184 L 551.52 154.85184 L 551.76 155.7792 L 552.72 155.7792 L 552.96 156.70656 L 553.44 156.70656 L 553.68 157.63392 L 554.4 157.63392 L 554.64 158.56128 L 555.84 158.56128 L 556.08 159.48864 L 557.04 159.48864 L 557.28 160.416 L 558.96 160.416 L 559.2 161.34336 L 560.4 161.34336 L 560.64 162.27072 L 561.6 162.27072 L 561.84 163.19808 L 562.08 163.19808 L 562.32 164.12544 L 562.56 163.19808 L 562.8 164.12544 L 563.52 164.12544 L 563.76 165.0528 L 564.48 165.0528 L 564.72 165.98016 L 566.88 165.98016 L 567.12 166.90752 L 571.92 166.90752 L 572.16 167.83488 L 572.4 166.90752 L 572.64 167.83488 L 573.84 167.83488 L 574.08 168.76224 L 574.32 167.83488 L 575.28 167.83488 L 575.52 168.76224 L 575.76 167.83488 L 576 167.83488 L 576.24 168.76224 L 577.44 168.76224 L 577.68 169.6896 L 577.92 168.76224 L 578.16 168.76224 L 578.4 169.6896 L 578.64 168.76224 L 578.88 168.76224 L 579.12 169.6896 L 579.36 168.76224 L 581.28 168.76224 L 581.52 169.6896 L 582.48 169.6896 L 582.72 168.76224 L 582.96 169.6896 L 588 169.6896 L 588.24 170.61696 L 589.2 170.61696 L 589.44 171.54432 L 589.68 171.54432 L 589.92 170.61696 L 590.16 170.61696 L 590.4 171.54432 L 590.64 170.61696 L 590.88 171.54432 L 592.32 171.54432 L 592.56 172.47168 L 593.28 172.47168 L 593.52 173.39904 L 594.96 173.39904 L 595.2 172.47168 L 595.44 173.39904 L 595.68 173.39904 L 595.92 174.3264 L 596.16 173.39904 L 596.64 173.39904 L 596.88 174.3264 L 597.12 173.39904 L 597.84 173.39904 L 598.08 174.3264 L 600 174.3264 L 600.24 175.25376 L 603.6 175.25376 L 603.84 176.18112 L 604.08 176.18112 L 604.32 175.25376 L 604.56 176.18112 L 606 176.18112 L 606.24 177.10848 L 606.48 176.18112 L 606.72 177.10848 L 606.96 177.10848 L 607.2 176.18112 L 607.44 177.10848 L 607.68 176.18112 L 607.92 177.10848 L 608.16 176.18112 L 609.84 176.18112 L 610.08 175.25376 L 610.32 175.25376 L 610.56 176.18112 L 611.04 176.18112 L 611.28 177.10848 L 611.76 177.10848 L 612 176.18112 L 612.24 176.18112 L 612.48 177.10848 L 612.72 177.10848 L 612.96 176.18112 L 613.68 176.18112 L 613.92 175.25376 L 614.16 176.18112 L 615.6 176.18112 L 615.84 177.10848 L 616.32 177.10848 L 616.56 176.18112 L 616.8 176.18112 L 617.04 177.10848 L 617.76 177.10848 L 618 176.18112 L 618.24 177.10848 L 618.48 177.10848 L 618.72 176.18112 L 618.96 176.18112 L 618.96 176.18112 " clip-path="url(#p7437178275)" style="fill: none; stroke: #0000ff; stroke-width: 2.3; stroke-linecap: square"/>
</g>
<g id="line2d_42">
<path d="M 276.24 184.128 L 276.24 19.2 " clip-path="url(#p7437178275)" style="fill: none; stroke-dasharray: 5.55,2.4; stroke-dashoffset: 0; stroke: #000000; stroke-width: 1.5"/>
</g>
<g id="d1">
<text style="font-size: 13px; font-family: 'DejaVu Sans', 'Bitstream Vera Sans', 'Computer Modern Sans Serif', 'Lucida Grande', 'Verdana', 'Geneva', 'Lucid', 'Arial', 'Helvetica', 'Avant Garde', sans-serif; text-anchor: start; fill: #333333" x="90.192" y="42" transform="translate(90.192 42) scale(0.955 1) translate(-90.192 -42)">11/14</text>
</g>
<g id="d2">
<text style="font-size: 13px; font-family: 'DejaVu Sans', 'Bitstream Vera Sans', 'Computer Modern Sans Serif', 'Lucida Grande', 'Verdana', 'Geneva', 'Lucid', 'Arial', 'Helvetica', 'Avant Garde', sans-serif; text-anchor: start; fill: #333333" x="288.624" y="42" transform="translate(288.624 42) scale(0.955 1) translate(-288.624 -42)">11/15</text>
</g>
<g id="legend_1">
<g id="patch_10">
<path d="M 92.24 22.7616 L 292.443 22.7616 Q 294.443 22.7616 294.443 20.7616 L 294.443 7.083475 Q 294.443 5.083475 292.443 5.083475 L 92.24 5.083475 Q 90.24 5.083475 90.24 7.083475 L 90.24 20.7616 Q 90.24 22.7616 92.24 22.7616 z
" style="fill: #ffffff; opacity: 0.8; stroke: #cccccc; stroke-linejoin: miter"/>
</g>
<g id="line2d_43" transform="translate(0.24 0.48)">
<path d="M 94.24 13.181912 L 104.24 13.181912 L 114.24 13.181912 " style="fill: none; stroke: #0000ff; stroke-width: 1.5; stroke-linecap: square"/>
</g>
<g id="text_22">
<text style="font-size: 10px; font-family: 'DejaVu Sans', 'Bitstream Vera Sans', 'Computer Modern Sans Serif', 'Lucida Grande', 'Verdana', 'Geneva', 'Lucid', 'Arial', 'Helvetica', 'Avant Garde', sans-serif; text-anchor: start" x="122.24" y="16.681912" transform="rotate(-0 122.24 16.681912)">2m MSL Pressure </text>
</g>
<g id="patch_11" transform="translate(-0.58 0.19)">
<path d="M 231.115 16.681912 L 251.115 16.681912 L 251.115 9.681912 L 231.115 9.681912 z
" style="fill: #d3d3d3; fill-opacity: 0.5; stroke: #d3d3d3; stroke-opacity: 0.5; stroke-linejoin: miter"/>
</g>
<g id="text_23">
<text style="font-size: 10px; font-family: 'DejaVu Sans', 'Bitstream Vera Sans', 'Computer Modern Sans Serif', 'Lucida Grande', 'Verdana', 'Geneva', 'Lucid', 'Arial', 'Helvetica', 'Avant Garde', sans-serif; text-anchor: start" x="259.115" y="16.681912" transform="translate(-0.43 0)">NIGHT</text>
</g>
</g>
</g>
<g id="axes_2">
<g id="matplotlib.axis_3">
<g id="ytick_7">
<g id="line2d_44">
<g>
<path d="M 0 0 L 3.5 0" transform="translate(648 183.84)" style="stroke: #000000; stroke-width: 0.8"/>
</g>
</g>
<g id="text_24">
<text style="font-size: 10px; font-family: 'DejaVu Sans', 'Bitstream Vera Sans', 'Computer Modern Sans Serif', 'Lucida Grande', 'Verdana', 'Geneva', 'Lucid', 'Arial', 'Helvetica', 'Avant Garde', sans-serif; text-anchor: start" x="655" y="187.639219" transform="translate(0.000 -0.240)">29.8</text>
</g>
</g>
<g id="ytick_8">
<g id="line2d_45">
<g>
<path d="M 0 0 L 3.5 0" transform="translate(648 152.16)" style="stroke: #000000; stroke-width: 0.8"/>
</g>
</g>
<g id="text_25">
<text style="font-size: 10px; font-family: 'DejaVu Sans', 'Bitstream Vera Sans', 'Computer Modern Sans Serif', 'Lucida Grande', 'Verdana', 'Geneva', 'Lucid', 'Arial', 'Helvetica', 'Avant Garde', sans-serif; text-anchor: start" x="655" y="155.959219" transform="translate(0.000 -0.096)">29.9</text>
</g>
</g>
<g id="ytick_9">
<g id="line2d_46">
<g>
<path d="M 0 0 L 3.5 0" transform="translate(648 120.48)" style="stroke: #000000; stroke-width: 0.8"/>
</g>
</g>
<g id="text_26">
<text style="font-size: 10px; font-family: 'DejaVu Sans', 'Bitstream Vera Sans', 'Computer Modern Sans Serif', 'Lucida Grande', 'Verdana', 'Geneva', 'Lucid', 'Arial', 'Helvetica', 'Avant Garde', sans-serif; text-anchor: start" x="655" y="124.279219" transform="translate(0.000 0.048)">30.0</text>
</g>
</g>
<g id="ytick_10">
<g id="line2d_47">
<g>
<path d="M 0 0 L 3.5 0" transform="translate(648 88.8)" style="stroke: #000000; stroke-width: 0.8"/>
</g>
</g>
<g id="text_27">
<text style="font-size: 10px; font-family: 'DejaVu Sans', 'Bitstream Vera Sans', 'Computer Modern Sans Serif', 'Lucida Grande', 'Verdana', 'Geneva', 'Lucid', 'Arial', 'Helvetica', 'Avant Garde', sans-serif; text-anchor: start" x="655" y="92.599219" transform="translate(0.000 0.192)">30.1</text>
</g>
</g>
<g id="ytick_11">
<g id="line2d_48">
<g>
<path d="M 0 0 L 3.5 0" transform="translate(648 57.6)" style="stroke: #000000; stroke-width: 0.8"/>
</g>
</g>
<g id="text_28">
<text style="font-size: 10px; font-family: 'DejaVu Sans', 'Bitstream Vera Sans', 'Computer Modern Sans Serif', 'Lucida Grande', 'Verdana', 'Geneva', 'Lucid', 'Arial', 'Helvetica', 'Avant Garde', sans-serif; text-anchor: start" x="655" y="61.399219" transform="translate(0.000 -0.144)">30.2</text>
</g>
</g>
<g id="ytick_12">
<g id="line2d_49">
<g>
<path d="M 0 0 L 3.5 0" transform="translate(648 25.92)" style="stroke: #000000; stroke-width: 0.8"/>
</g>
</g>
<g id="text_29">
<text style="font-size: 10px; font-family: 'DejaVu Sans', 'Bitstream Vera Sans', 'Computer Modern Sans Serif', 'Lucida Grande', 'Verdana', 'Geneva', 'Lucid', 'Arial', 'Helvetica', 'Avant Garde', sans-serif; text-anchor: start" x="655" y="29.719219" transform="translate(0.000 -0.000)">30.3</text>
</g>
</g>
<g id="text_30">
<text style="font-size: 10px; font-family: 'DejaVu Sans', 'Bitstream Vera Sans', 'Computer Modern Sans Serif', 'Lucida Grande', 'Verdana', 'Geneva', 'Lucid', 'Arial', 'Helvetica', 'Avant Garde', sans-serif; text-anchor: middle" x="688.864062" y="104.88" transform="translate(-0.480 0.720) rotate(-90 688.864062 104.88)">Inches of Mercury</text>
</g>
</g>
<g id="patch_12">
<path d="M 90.24 183.84 L 90.24 25.92 " style="fill: none; stroke: #000000; stroke-width: 0.8; stroke-linejoin: miter; stroke-linecap: square"/>
</g>
<g id="patch_13">
<path d="M 648 183.84 L 648 25.92 " style="fill: none; stroke: #000000; stroke-width: 0.8; stroke-linejoin: miter; stroke-linecap: square"/>
</g>
<g id="patch_14">
<path d="M 90.24 183.84 L 648 183.84 " style="fill: none; stroke: #000000; stroke-width: 0.8; stroke-linejoin: miter; stroke-linecap: square"/>
</g>
<g id="patch_15">
<path d="M 90.24 25.92 L 648 25.92 " style="fill: none; stroke: #000000; stroke-width: 0.8; stroke-linejoin: miter; stroke-linecap: square"/>
</g>
</g>
</g>
<defs>
<clipPath id="p7437178275">
<rect x="90.24" y="25.92" width="557.76" height="157.92"/>
</clipPath>
</defs>
</svg>

</body></html>
